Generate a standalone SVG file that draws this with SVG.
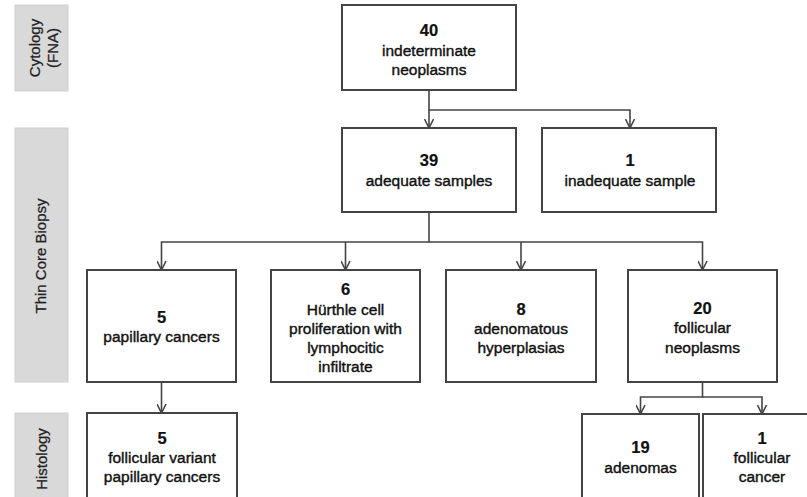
<svg xmlns="http://www.w3.org/2000/svg" width="807" height="497" viewBox="0 0 807 497">
<defs>
<style>
.bar{fill:#d9d9d9;stroke:#cfcfcf;stroke-width:1}
.bl{font-family:"Liberation Sans",Arial,sans-serif;font-size:15px;fill:#222;stroke:#222;stroke-width:0.25;text-anchor:middle}
.box{fill:#fff;stroke:#444;stroke-width:2}
.t{font-family:"Liberation Sans",Arial,sans-serif;font-size:15.5px;fill:#111;stroke:#111;stroke-width:0.4;text-anchor:middle}
.n{font-weight:bold;font-size:16.5px;stroke-width:0.2}
.c{fill:none;stroke:#444;stroke-width:1.6}
</style>
<marker id="ar" viewBox="0 0 10 10" refX="10" refY="5" markerWidth="10" markerHeight="10" markerUnits="userSpaceOnUse" orient="auto">
<path d="M1,0.5 L10,5 L1,9.5" fill="none" stroke="#444" stroke-width="1.6"/>
</marker>
</defs>
<rect width="807" height="497" fill="#fff"/>

<g id="lane-cytology">
<rect class="bar" x="15" y="5" width="53" height="86"/>
<text class="bl" transform="translate(40,48) rotate(-90)">Cytology</text>
<text class="bl" transform="translate(58,48) rotate(-90)">(FNA)</text>
</g>
<g id="lane-tcb">
<rect class="bar" x="15" y="128" width="53" height="254"/>
<text class="bl" transform="translate(46,256) rotate(-90)">Thin Core Biopsy</text>
</g>
<g id="lane-histology">
<rect class="bar" x="15" y="413" width="53" height="100"/>
<text class="bl" transform="translate(47,459) rotate(-90)">Histology</text>
</g>

<g id="connectors">
<path class="c" d="M429,90 V110 H630 V128" marker-end="url(#ar)"/>
<path class="c" d="M429,110 V128" marker-end="url(#ar)"/>
<path class="c" d="M429,212 V242 H161.5 V270" marker-end="url(#ar)"/>
<path class="c" d="M429,242 H702.5 V270" marker-end="url(#ar)"/>
<path class="c" d="M345.5,242 V270" marker-end="url(#ar)"/>
<path class="c" d="M521,242 V270" marker-end="url(#ar)"/>
<path class="c" d="M161.5,382 V413" marker-end="url(#ar)"/>
<path class="c" d="M702.5,382 V397 H640.5 V414" marker-end="url(#ar)"/>
<path class="c" d="M702.5,397 H762 V414" marker-end="url(#ar)"/>
</g>

<g id="n40">
<rect class="box" x="342" y="5" width="174" height="85"/>
<text class="t n" x="429" y="36">40</text>
<text class="t" x="429" y="56">indeterminate</text>
<text class="t" x="429" y="75">neoplasms</text>
</g>
<g id="n39">
<rect class="box" x="342" y="128" width="174" height="84"/>
<text class="t n" x="429" y="166">39</text>
<text class="t" x="429" y="186">adequate samples</text>
</g>
<g id="n1i">
<rect class="box" x="542" y="128" width="174" height="84"/>
<text class="t n" x="630" y="166">1</text>
<text class="t" x="630" y="186">inadequate sample</text>
</g>
<g id="n5p">
<rect class="box" x="87" y="270" width="149" height="112"/>
<text class="t n" x="161.5" y="323">5</text>
<text class="t" x="161.5" y="342">papillary cancers</text>
</g>
<g id="n6">
<rect class="box" x="271" y="270" width="149" height="112"/>
<text class="t n" x="345.5" y="295">6</text>
<text class="t" x="345.5" y="315">Hürthle cell</text>
<text class="t" x="345.5" y="334">proliferation with</text>
<text class="t" x="345.5" y="353">lymphocitic</text>
<text class="t" x="345.5" y="372">infiltrate</text>
</g>
<g id="n8">
<rect class="box" x="446" y="270" width="150" height="112"/>
<text class="t n" x="521" y="315">8</text>
<text class="t" x="521" y="334">adenomatous</text>
<text class="t" x="521" y="353">hyperplasias</text>
</g>
<g id="n20">
<rect class="box" x="628" y="270" width="149" height="112"/>
<text class="t n" x="702.5" y="314">20</text>
<text class="t" x="702.5" y="333">follicular</text>
<text class="t" x="702.5" y="353">neoplasms</text>
</g>
<g id="n5f">
<rect class="box" x="87" y="413" width="150" height="100"/>
<text class="t n" x="162" y="444">5</text>
<text class="t" x="162" y="463">follicular variant</text>
<text class="t" x="162" y="482">papillary cancers</text>
</g>
<g id="n19">
<rect class="box" x="582" y="414" width="117" height="100"/>
<text class="t n" x="640.5" y="453">19</text>
<text class="t" x="640.5" y="473">adenomas</text>
</g>
<g id="n1f">
<rect class="box" x="703" y="414" width="118" height="100"/>
<text class="t n" x="762" y="444">1</text>
<text class="t" x="762" y="463">follicular</text>
<text class="t" x="762" y="482">cancer</text>
</g>
</svg>
